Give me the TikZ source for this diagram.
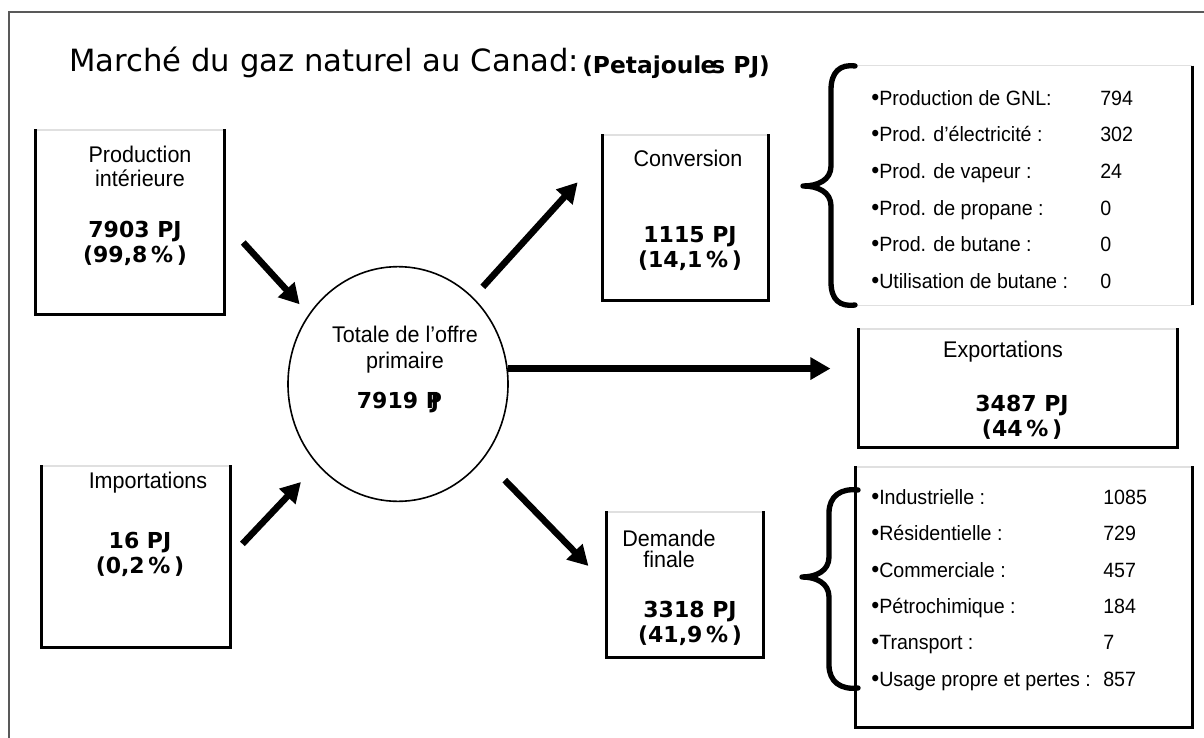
\documentclass[tikz,border=0pt]{standalone}
\usepackage{fontspec}
\setmainfont[FakeStretch=0.95]{Liberation Sans}
\newfontfamily\verdana{DejaVu Sans}
\usetikzlibrary{arrows.meta,shapes.geometric,fit}

\tikzset{
  panel/.style={inner sep=0pt, draw=black!12, line width=0.8pt},
  side/.style={line width=1.9pt},
  flow/.style={line width=4.9pt, -{Triangle[length=15pt,width=16pt]}},
  lbl/.style={font=\fontsize{17}{18}\selectfont, align=center, inner sep=0pt},
  fig/.style={font=\verdana\bfseries\fontsize{16.5}{18.75}\selectfont, align=center, inner sep=0pt},
  item/.style={font=\fontsize{15.5}{17}\selectfont, anchor=west, inner sep=0pt, text height=1.5ex, text depth=.3ex},
  curly/.style={line width=4pt, line cap=round, line join=round}
}
\newcommand{\puce}{{\fontsize{18}{18}\selectfont\textbullet}}

\begin{document}
\begin{tikzpicture}[x=0.75pt, y=-0.75pt]
\useasboundingbox (0,0) rectangle (1204,738);
% cadre
\draw[black!65, line width=1.3pt] (9,745) -- (9,12) -- (1210,12);

% titre
\node[anchor=base west, inner sep=0pt, font=\verdana\fontsize{23}{24}\selectfont] (title) at (69,72) {Marché du gaz naturel au Canad:};
\node[anchor=base west, inner sep=0pt, font=\verdana\bfseries\fontsize{17.5}{20}\selectfont] (unit) at (582,74) {(Petajoul\kern-.03em e\kern-.22em s PJ)};

% boites
\node[panel, fit={(36,130) (224,314)}] (prod) {};
\node[panel, fit={(42,466) (230,647)}] (imp) {};
\node[panel, fit={(603,135) (768,300)}] (conv) {};
\node[panel, fit={(859,329) (1177,447)}] (expo) {};
\node[panel, fit={(607,512) (763,657)}] (dem) {};
\node[panel, fit={(856,467) (1192,727)}] (llist) {};
\node[inner sep=0pt, fit={(855,66) (1192,305)}] (ulist) {};
\foreach \n in {prod,imp,conv,expo,dem,llist}
  \draw[side] (\n.north west) |- (\n.south east) -- (\n.north east);
\draw[panel] (ulist.north west) -- (ulist.north east) (ulist.south west) -- (ulist.south east);
\draw[side] (ulist.north east) -- (ulist.south east);

\node[ellipse, draw, line width=1.2pt, minimum width=165pt, minimum height=176pt, inner sep=0pt] (total) at (398,384) {};

% textes
\node[lbl] (prodlbl) at (140,166) {Production\\intérieure};
\node[fig] (prodfig) at (135,243) {7903 PJ\\(99,8\,\%\,)};
\node[lbl] (implbl) at (148,483) {Importations};
\node[fig] (impfig) at (140,554) {16 PJ\\(0,2\,\%\,)};
\node[lbl, font=\fontsize{17}{19.5}\selectfont] (totlbl) at (405,350) {Totale de l’offre\\primaire};
\node[fig] (totfig) at (398,403) {7919 P\kern-.5em J};
\node[lbl] (convlbl) at (688,158) {Conversion};
\node[fig] (convfig) at (690,249) {1115 PJ\\(14,1\,\%\,)};
\node[lbl] (expolbl) at (1003,352) {Exportations};
\node[fig] (expofig) at (1022,417) {3487 PJ\\(44\,\%\,)};
\node[lbl, font=\fontsize{17}{16}\selectfont] (demlbl) at (669,549) {Demande\\finale};
\node[fig] (demfig) at (690,623) {3318 PJ\\(41,9\,\%\,)};

% listes
\foreach \t/\v [count=\i] in {Production de GNL:/794, Prod. d’électricité :/302,
    Prod. de vapeur :/24, Prod. de propane :/0, Prod. de butane :/0,
    Utilisation de butane :/0}{
  \node[item] (cv\i) at (871, 64.4+36.6*\i) {\puce\t};
  \node[item] (cvval\i) at (1100, 64.4+36.6*\i) {\v};
}
\foreach \t/\v [count=\i] in {Industrielle :/1085, Résidentielle :/729,
    Commerciale :/457, Pétrochimique :/184, Transport :/7,
    Usage propre et pertes :/857}{
  \node[item] (dm\i) at (871, 463.6+36.4*\i) {\puce\t};
  \node[item] (dmval\i) at (1103, 463.6+36.4*\i) {\v};
}

% accolades
\draw[curly] (855,66) .. controls (840,64) and (831,72) .. (831,90) -- (831,166)
  .. controls (831,180) and (818,186) .. (803,186) .. controls (818,186) and (831,192) .. (831,206)
  -- (831,282) .. controls (831,300) and (840,307) .. (855,305);
\draw[curly] (858,490) .. controls (841,488) and (829,496) .. (829,513) -- (829,557)
  .. controls (829,571) and (816,577) .. (802,577) .. controls (816,577) and (829,583) .. (829,597)
  -- (829,665) .. controls (829,682) and (841,690) .. (858,688);

% fleches
\draw[flow, shorten <=20.8pt, shorten >=10pt] (prod.east) -- (total.142);
\draw[flow, shorten <=13pt, shorten >=17.7pt] (imp.east) -- (total.225);
\draw[flow, shorten <=10.6pt, shorten >=27.7pt] (total.49) -- (conv.143);
\draw[flow, shorten >=21pt] (total.8) -- (expo.west |- total.8);
\draw[flow, shorten <=22.5pt, shorten >=19.4pt] (total.-41) -- (dem.west);
\end{tikzpicture}
\end{document}
